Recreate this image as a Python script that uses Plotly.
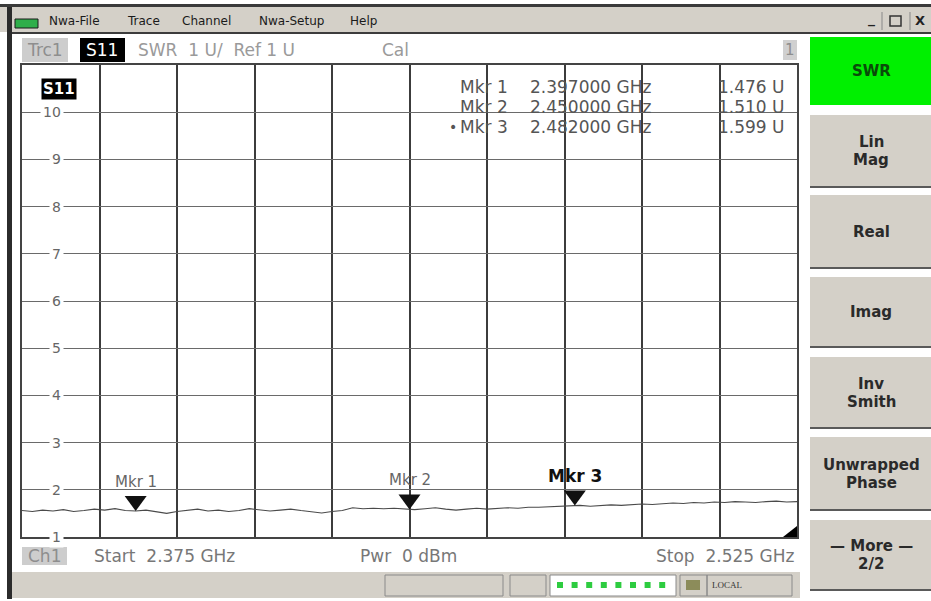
import numpy as np
import plotly.graph_objects as go

# ---------------- data ----------------
FREQ_GHZ = [
    2.375, 2.377, 2.379, 2.381, 2.383, 2.385, 2.387, 2.389, 2.391, 2.393,
    2.395, 2.397, 2.399, 2.401, 2.403, 2.405, 2.407, 2.409, 2.411, 2.413,
    2.415, 2.417, 2.419, 2.421, 2.423, 2.425, 2.427, 2.429, 2.431, 2.433,
    2.435, 2.437, 2.439, 2.441, 2.443, 2.445, 2.447, 2.449, 2.451, 2.453,
    2.455, 2.457, 2.459, 2.461, 2.463, 2.465, 2.467, 2.469, 2.471, 2.473,
    2.475, 2.477, 2.479, 2.481, 2.483, 2.485, 2.487, 2.489, 2.491, 2.493,
    2.495, 2.497, 2.499, 2.501, 2.503, 2.505, 2.507, 2.509, 2.511, 2.513,
    2.515, 2.517, 2.519, 2.521, 2.523, 2.525,
]
SWR = [
    1.56, 1.54, 1.57, 1.55, 1.58, 1.54, 1.56, 1.59, 1.57, 1.60,
    1.56, 1.55, 1.57, 1.53, 1.50, 1.54, 1.56, 1.59, 1.55, 1.57,
    1.54, 1.56, 1.60, 1.57, 1.55, 1.57, 1.59, 1.56, 1.53, 1.51,
    1.54, 1.56, 1.62, 1.60, 1.61, 1.60, 1.61, 1.59, 1.58, 1.60,
    1.62, 1.59, 1.57, 1.59, 1.61, 1.59, 1.60, 1.62, 1.61, 1.63,
    1.63, 1.64, 1.65, 1.66, 1.67, 1.65, 1.66, 1.68, 1.67, 1.69,
    1.70, 1.69, 1.71, 1.72, 1.71, 1.73, 1.72, 1.74, 1.73, 1.75,
    1.74, 1.73, 1.75, 1.76, 1.74, 1.75,
]
MKR_NAMES = ["Mkr 1", "Mkr 2", "Mkr 3"]
MKR_FREQ = [2.397, 2.450, 2.482]
MKR_SWR = [1.476, 1.510, 1.599]
ACTIVE_MKR = 2
Y_TICKS = [1, 2, 3, 4, 5, 6, 7, 8, 9, 10]
START_GHZ = 2.375
STOP_GHZ = 2.525
Y_MIN, Y_MAX = 1, 11
MENU_ITEMS = ["Nwa-File", "Trace", "Channel", "Nwa-Setup", "Help"]
SOFTKEYS = [["SWR"], ["Lin", "Mag"], ["Real"], ["Imag"], ["Inv", "Smith"],
            ["Unwrapped", "Phase"], ["\u2014 More \u2014", "2/2"]]

# ---------------- layout helpers ----------------
W, H = 931, 601
FONT = "DejaVu Sans"


def px(x):
    return x / W


def py(y):
    return 1 - y / H


shapes = []
annots = []


def rect(x0, y0, x1, y1, fill, line=None, lw=0, layer="below"):
    shapes.append(dict(type="rect", xref="paper", yref="paper",
                       x0=px(x0), x1=px(x1), y0=py(y1), y1=py(y0),
                       fillcolor=fill, layer=layer,
                       line=dict(width=lw, color=line or fill)))


def seg(x0, y0, x1, y1, color, w=1):
    shapes.append(dict(type="line", xref="paper", yref="paper",
                       x0=px(x0), x1=px(x1), y0=py(y0), y1=py(y1),
                       line=dict(color=color, width=w)))


def text(x, y, s, size=13, color="#222", xa="left", bold=False, bg=None,
         family=FONT):
    d = dict(x=px(x), y=py(y), xref="paper", yref="paper", text=s,
             showarrow=False, xanchor=xa, yanchor="middle",
             font=dict(size=size, color=color, family=family,
                       weight="bold" if bold else "normal"))
    if bg:
        d["bgcolor"] = bg
    annots.append(d)


# window frame / menu bar
rect(0, 4, W, 7, "#3a3a3a")
rect(0, 7, W, 32, "#d4d0c8")
rect(8, 32, W, 34, "#3c3c3c")
rect(7, 7, 12, 599, "#2b2b2b")
rect(15, 19, 38, 28, "#2fae4a", line="#1a1a1a", lw=1)
menu_x = [47, 125, 180, 257, 348]
for mx, item in zip(menu_x, MENU_ITEMS):
    text(mx, 21, item, size=12, color="#1a1a1a")
# window buttons
text(871, 19, "_", size=14, color="#222", xa="center", bold=True)
rect(890, 16, 901, 26, "rgba(0,0,0,0)", line="#333", lw=1.5)
text(920, 21, "X", size=13, color="#222", xa="center", bold=True)
seg(882, 12, 882, 30, "#888")
seg(910, 12, 910, 30, "#888")

# trace header row
rect(22, 38, 68, 62, "#cdcdcd")
text(45, 50, "Trc1", size=17, color="#8e8e8e", xa="center")
rect(80, 38, 125, 62, "#000000")
text(102, 50, "S11", size=17, color="#ffffff", xa="center")
text(136, 50, "SWR  1 U/  Ref 1 U", size=17, color="#9a9a9a")
text(380, 50, "Cal", size=17, color="#9a9a9a")
rect(783, 40, 797, 60, "#d0d0d0")
text(790, 50, "1", size=15, color="#8e8e8e", xa="center")

# softkey panel
BTN_Y = [(37, 105), (115, 187), (195, 268), (277, 347), (357, 428),
         (437, 510), (520, 590)]
for i, ((y0, y1), lines) in enumerate(zip(BTN_Y, SOFTKEYS)):
    if i == 0:
        rect(810, y0, W, y1, "#00f000")
        col = "#0a4a0a"
    else:
        rect(810, y0, W, y1, "#d4d0c8")
        seg(810, y1, W, y1, "#5a5a5a", 2)
        col = "#2a2a2a"
    cy = (y0 + y1) / 2
    n = len(lines)
    for k, ln in enumerate(lines):
        text(871, cy + (k - (n - 1) / 2) * 18, ln, size=15, color=col,
             xa="center", bold=True)

# bottom info row
rect(22, 547, 67, 565, "#cdcdcd")
text(44, 556, "Ch1", size=17, color="#8e8e8e", xa="center")
text(92, 556, f"Start  {START_GHZ:.3f} GHz", size=17, color="#777")
text(358, 556, "Pwr  0 dBm", size=17, color="#777")
text(796, 556, f"Stop  {STOP_GHZ:.3f} GHz", size=17, color="#777", xa="right")

# status bar
rect(12, 572, 800, 598, "#d4d0c8")
for (a, b) in [(385, 503), (510, 546), (680, 707), (707, 792)]:
    rect(a, 575, b, 596, "rgba(0,0,0,0)", line="#8a8a8a", lw=1)
rect(550, 575, 676, 596, "#ffffff", line="#8a8a8a", lw=1)
for k in range(8):
    cx = 560 + 14.6 * k
    rect(cx - 3, 582, cx + 3, 588, "#2ecc40")
rect(686, 580, 700, 590, "#8c8c5a")
text(710, 585, "LOCAL", size=9, color="#333", family="Liberation Serif")

# corner indicator inside plot
shapes.append(dict(type="path", xref="paper", yref="paper", layer="above",
                   path=f"M {px(797)},{py(526)} L {px(797)},{py(537)} L {px(783)},{py(537)} Z",
                   fillcolor="#000", line=dict(width=0)))

# S11 badge inside plot
text(59, 89, "S11", size=15, color="#ffffff", xa="center", bold=True, bg="#000000")

# y tick labels (inside plot, white backing breaks the grid line)
for v in Y_TICKS:
    annots.append(dict(x=px(64), y=v, xref="paper", yref="y", text=str(v),
                       showarrow=False, xanchor="right", yanchor="middle",
                       bgcolor="#ffffff", borderpad=2,
                       font=dict(size=14, color="#666", family=FONT)))

# marker readout table
for i, (nm, f, v) in enumerate(zip(MKR_NAMES, MKR_FREQ, MKR_SWR)):
    ry = 87 + 20 * i
    if i == ACTIVE_MKR:
        text(447, ry, "\u2022", size=14, color="#555")
    text(458, ry, nm, size=17, color="#555")
    text(528, ry, f"{f:.6f} GHz", size=17, color="#555")
    text(787, ry, f"{v:.3f} U", size=17, color="#555", xa="right")

# marker triangles + labels on the trace
for i, (nm, f) in enumerate(zip(MKR_NAMES, MKR_FREQ)):
    yv = float(np.interp(f, FREQ_GHZ, SWR))
    shapes.append(dict(type="path", xref="x", yref="y", layer="above",
                       xsizemode="pixel", ysizemode="pixel",
                       xanchor=f, yanchor=yv,
                       path="M -11 15 L 11 15 L 0 0 Z",
                       fillcolor="#111", line=dict(width=0)))
    active = i == ACTIVE_MKR
    annots.append(dict(x=f, y=yv, xref="x", yref="y", text=nm,
                       showarrow=False, xanchor="center", yanchor="bottom",
                       yshift=18,
                       font=dict(size=17 if active else 15,
                                 color="#111" if active else "#666",
                                 family=FONT,
                                 weight="bold" if active else "normal")))

# ---------------- figure ----------------
fig = go.Figure()
fig.add_trace(go.Scatter(x=FREQ_GHZ, y=SWR, mode="lines",
                         line=dict(color="#4a4a4a", width=1.1),
                         hoverinfo="skip", showlegend=False))

fig.update_layout(
    width=W, height=H,
    margin=dict(l=0, r=0, t=0, b=0),
    paper_bgcolor="#ffffff", plot_bgcolor="#ffffff",
    font=dict(family=FONT),
    showlegend=False,
    xaxis=dict(domain=[px(22), px(797)], range=[START_GHZ, STOP_GHZ],
               tick0=START_GHZ, dtick=0.015, showgrid=True,
               gridcolor="#3c3c3c", gridwidth=1.7, showticklabels=False,
               ticks="", zeroline=False, showline=True, mirror=True,
               linecolor="#444", linewidth=1.6, fixedrange=True),
    yaxis=dict(domain=[py(537), py(65)], range=[Y_MIN, Y_MAX],
               tick0=Y_MIN, dtick=1, showgrid=True, gridcolor="#6a6a6a",
               gridwidth=1.2, showticklabels=False, ticks="",
               zeroline=False, showline=True, mirror=True,
               linecolor="#444", linewidth=1.6, fixedrange=True),
    shapes=shapes,
    annotations=annots,
)

fig.write_html(
    "out.html",
    config={"displayModeBar": False},
    post_script="document.body.style.margin='0';document.body.style.overflow='hidden';",
)
